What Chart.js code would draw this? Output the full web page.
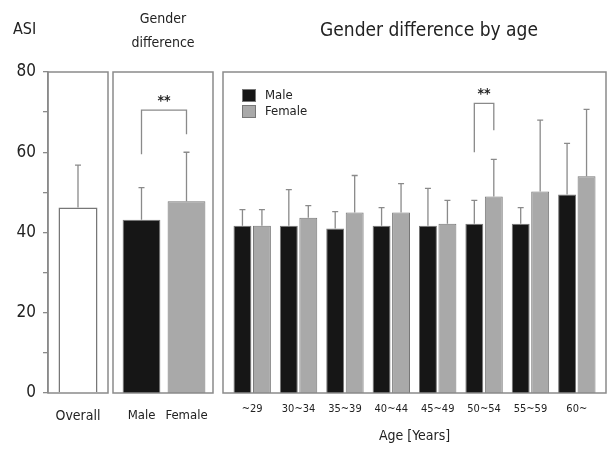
<!DOCTYPE html>
<html>
<head>
<meta charset="utf-8">
<script src="https://cdn.jsdelivr.net/npm/chart.js@4/dist/chart.umd.min.js"></script>
<style>
html, body { margin: 0; padding: 0; background: #fff; }
#wrap { position: relative; width: 608px; height: 449px; }
.panel { position: absolute; top: 0; height: 449px; }
</style>
</head>
<body>
<div id="wrap">
  <div class="panel" style="left:0;width:109px"><canvas id="overallChart"></canvas></div>
  <div class="panel" style="left:112px;width:102px"><canvas id="genderChart"></canvas></div>
  <div class="panel" style="left:222px;width:386px"><canvas id="ageChart"></canvas></div>
</div>
<script>
// ASI values (mean + upward SD)
const overallLabels = ['Overall'];
const overallMean = [46.2];
const overallSD = [10.6];

const genderLabels = ['Male', 'Female'];
const genderMean = [43.2, 47.8];
const genderSD = [8.0, 12.2];

const ageLabels = ['~29', '30~34', '35~39', '40~44', '45~49', '50~54', '55~59', '60~'];
const maleMean = [41.7, 41.7, 41.0, 41.7, 41.7, 42.2, 42.2, 49.5];
const maleSD = [4.0, 9.0, 4.2, 4.5, 9.3, 5.8, 4.0, 12.7];
const femaleMean = [41.7, 43.7, 45.0, 45.0, 42.2, 49.0, 50.2, 54.0];
const femaleSD = [4.0, 3.0, 9.2, 7.2, 5.8, 9.2, 17.8, 16.7];

const yTicks = [0, 20, 40, 60, 80];

const FONT = "'DejaVu Sans Condensed', 'Liberation Sans Narrow', 'DejaVu Sans', sans-serif";
const LINE = '#8a8a8a';
const TEXT = '#222';
const MALE = '#161616';
const FEMALE = '#a9a9a9';

// box, error bars, brackets, texts and legend for each panel
const decor = {
    id: 'decor',
    afterDatasetsDraw(chart, args, opts) {
        const ctx = chart.ctx;
        const area = chart.chartArea;
        const y = chart.scales.y;
        ctx.save();

        // error bars (upward only)
        ctx.strokeStyle = LINE;
        ctx.lineWidth = 1.3;
        (opts.sd || []).forEach((sd, di) => {
            const meta = chart.getDatasetMeta(di);
            const data = chart.data.datasets[di].data;
            meta.data.forEach((bar, i) => {
                const top = y.getPixelForValue(data[i] + sd[i]);
                ctx.beginPath();
                ctx.moveTo(bar.x, bar.y);
                ctx.lineTo(bar.x, top);
                ctx.moveTo(bar.x - 3, top);
                ctx.lineTo(bar.x + 3, top);
                ctx.stroke();
            });
        });

        // significance brackets
        (opts.brackets || []).forEach(b => {
            const x1 = chart.getDatasetMeta(b.d1).data[b.i1].x;
            const x2 = chart.getDatasetMeta(b.d2).data[b.i2].x;
            const yt = y.getPixelForValue(b.top);
            ctx.strokeStyle = LINE;
            ctx.lineWidth = 1.3;
            ctx.beginPath();
            ctx.moveTo(x1, y.getPixelForValue(b.left));
            ctx.lineTo(x1, yt);
            ctx.lineTo(x2, yt);
            ctx.lineTo(x2, y.getPixelForValue(b.right));
            ctx.stroke();
            ctx.fillStyle = TEXT;
            ctx.font = 'bold 14px ' + FONT;
            ctx.textAlign = 'center';
            ctx.textBaseline = 'middle';
            ctx.fillText('**', (x1 + x2) / 2, yt - 9);
        });

        // panel frame
        ctx.strokeStyle = LINE;
        ctx.lineWidth = 1.5;
        const bx = opts.box;
        ctx.strokeRect(bx[0], area.top, bx[1] - bx[0], area.bottom - area.top);

        // legend
        if (opts.legend) {
            ctx.font = '13px ' + FONT;
            ctx.textAlign = 'left';
            ctx.textBaseline = 'middle';
            chart.data.datasets.forEach((ds, i) => {
                const ly = 89 + i * 16;
                ctx.fillStyle = ds.backgroundColor;
                ctx.fillRect(20, ly, 14, 13);
                ctx.strokeStyle = '#777';
                ctx.lineWidth = 1;
                ctx.strokeRect(20.5, ly + 0.5, 13, 12);
                ctx.fillStyle = TEXT;
                ctx.fillText(ds.label, 43, ly + 7);
            });
        }

        // headings
        (opts.texts || []).forEach(t => {
            ctx.fillStyle = TEXT;
            ctx.font = t.size + 'px ' + FONT;
            ctx.textAlign = t.align || 'center';
            ctx.textBaseline = 'middle';
            ctx.fillText(t.text, t.x, t.y);
        });
        ctx.restore();
    }
};

function xAxis(size, padding, title) {
    return {
        grid: { display: false, drawTicks: false },
        border: { display: false },
        ticks: { color: TEXT, padding: padding, font: { family: FONT, size: size }, maxRotation: 0, autoSkip: false },
        title: title || { display: false },
        afterFit: s => { s.height = 56; s.paddingLeft = 0; s.paddingRight = 0; }
    };
}

function hiddenY() {
    return { display: false, min: 0, max: 80 };
}

Chart.register(decor);

new Chart(document.getElementById('overallChart'), {
    type: 'bar',
    data: {
        labels: overallLabels,
        datasets: [{ label: 'Overall', data: overallMean, backgroundColor: '#fff', borderColor: '#777', borderWidth: 1.5, barPercentage: 0.65, categoryPercentage: 1 }]
    },
    options: {
        responsive: true, maintainAspectRatio: false, animation: false,
        layout: { padding: { top: 72, right: 1, left: 0, bottom: 0 } },
        plugins: {
            legend: { display: false }, tooltip: { enabled: false },
            decor: { box: [48, 108], sd: [overallSD], texts: [{ text: 'ASI', x: 13, y: 30, size: 16, align: 'left' }] }
        },
        scales: {
            x: xAxis(14, 15),
            y: {
                min: 0, max: 80,
                ticks: { stepSize: 10, autoSkip: false, padding: 7, color: TEXT, font: { family: FONT, size: 17 },
                    callback: v => yTicks.includes(v) ? v : '' },
                grid: { drawOnChartArea: false, tickLength: 5, color: LINE, lineWidth: 1.3 },
                border: { color: LINE, width: 1.5 },
                afterFit: s => { s.width = 48; }
            }
        }
    }
});

new Chart(document.getElementById('genderChart'), {
    type: 'bar',
    data: {
        labels: genderLabels,
        datasets: [{ label: 'ASI', data: genderMean, backgroundColor: [MALE, FEMALE], borderColor: '#777', borderWidth: 1, barPercentage: 0.84, categoryPercentage: 1 }]
    },
    options: {
        responsive: true, maintainAspectRatio: false, animation: false,
        layout: { padding: { top: 72, left: 7, right: 5, bottom: 0 } },
        plugins: {
            legend: { display: false }, tooltip: { enabled: false },
            decor: {
                box: [1, 101], sd: [genderSD],
                brackets: [{ d1: 0, i1: 0, d2: 0, i2: 1, top: 70.5, left: 59.5, right: 64.5 }],
                texts: [{ text: 'Gender', x: 51, y: 19, size: 14 }, { text: 'difference', x: 51, y: 43, size: 14 }]
            }
        },
        scales: { x: xAxis(13, 15), y: hiddenY() }
    }
});

new Chart(document.getElementById('ageChart'), {
    type: 'bar',
    data: {
        labels: ageLabels,
        datasets: [
            { label: 'Male', data: maleMean, backgroundColor: MALE, borderColor: '#777', borderWidth: 1, barPercentage: 0.92, categoryPercentage: 0.84 },
            { label: 'Female', data: femaleMean, backgroundColor: FEMALE, borderColor: '#777', borderWidth: 1, barPercentage: 0.92, categoryPercentage: 0.84 }
        ]
    },
    options: {
        responsive: true, maintainAspectRatio: false, animation: false,
        layout: { padding: { top: 72, left: 7, right: 8, bottom: 0 } },
        plugins: {
            legend: { display: false }, tooltip: { enabled: false },
            decor: {
                box: [1, 384], sd: [maleSD, femaleSD], legend: true,
                brackets: [{ d1: 0, i1: 5, d2: 1, i2: 5, top: 72.2, left: 60, right: 65.5 }],
                texts: [{ text: 'Gender difference by age', x: 207, y: 31, size: 19 }]
            }
        },
        scales: {
            x: xAxis(11, 10, { display: true, text: 'Age [Years]', color: TEXT, font: { family: FONT, size: 14 }, padding: { top: 0, bottom: 4 } }),
            y: hiddenY()
        }
    }
});
</script>
</body>
</html>
